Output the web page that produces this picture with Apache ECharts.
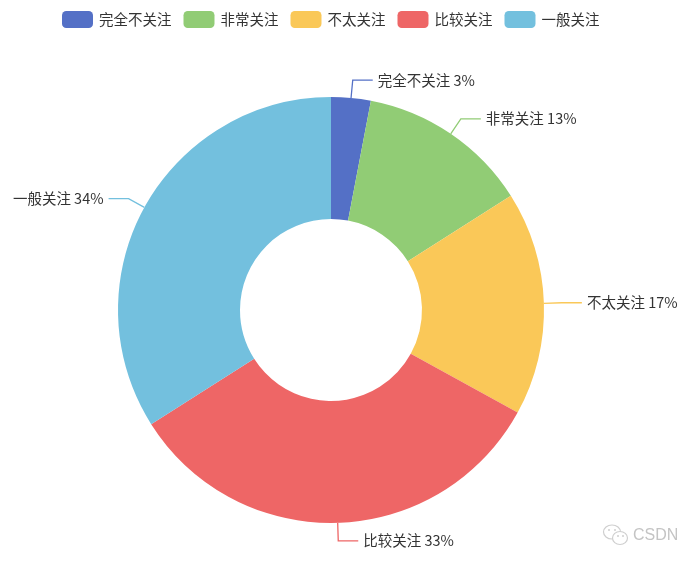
<!DOCTYPE html>
<html><head><meta charset="utf-8"><style>html,body{margin:0;background:#fff}#c{width:700px;height:564px}</style>
<script src="https://cdn.jsdelivr.net/npm/echarts@6/dist/echarts.min.js"></script></head><body><div id="c"></div>
<script>
const categories=['完全不关注','非常关注','不太关注','比较关注','一般关注'];
const values=[3,13,17,33,34];
const colors=['#5470c6','#91cc75','#fac858','#ee6666','#73c0de'];
const watermark='CSDN';
const chart=echarts.init(document.getElementById('c'));
const ring=(cx,cy,rx,ry)=>({type:'ellipse',shape:{cx,cy,rx,ry},style:{fill:'#fff',stroke:'#cfcfcf',lineWidth:1.2}});
const dot=(cx,cy)=>({type:'circle',shape:{cx,cy,r:1},style:{fill:'#cfcfcf'}});
chart.setOption({
 animation:false,color:colors,
 textStyle:{fontFamily:'"Noto Sans CJK SC","Noto Sans",sans-serif'},
 legend:{top:6,left:57,itemWidth:31,itemHeight:17,itemGap:12,itemStyle:{borderRadius:5},
  textStyle:{fontSize:14.5,color:'#333',padding:[0,0,0,1]},data:categories},
 graphic:[
  {type:'text',x:633,y:528,style:{text:watermark,fontSize:16,fill:'#c4c4c4',fontFamily:'"Liberation Sans"'}},
  ring(612,532,8.5,7),ring(620,538,7.5,6.5),dot(609,530),dot(615,530),dot(618,536),dot(623,536)
 ],
 series:[{type:'pie',center:[331,310],radius:[91,213],startAngle:90,
  data:categories.map((n,i)=>({name:n,value:values[i]})),
  label:{formatter:'{b} {c}%',fontSize:14.5,color:'#333',padding:[0,0,2,0]},
  labelLine:{length:18,length2:20,lineStyle:{width:1.3}}}]
});
</script></body></html>
